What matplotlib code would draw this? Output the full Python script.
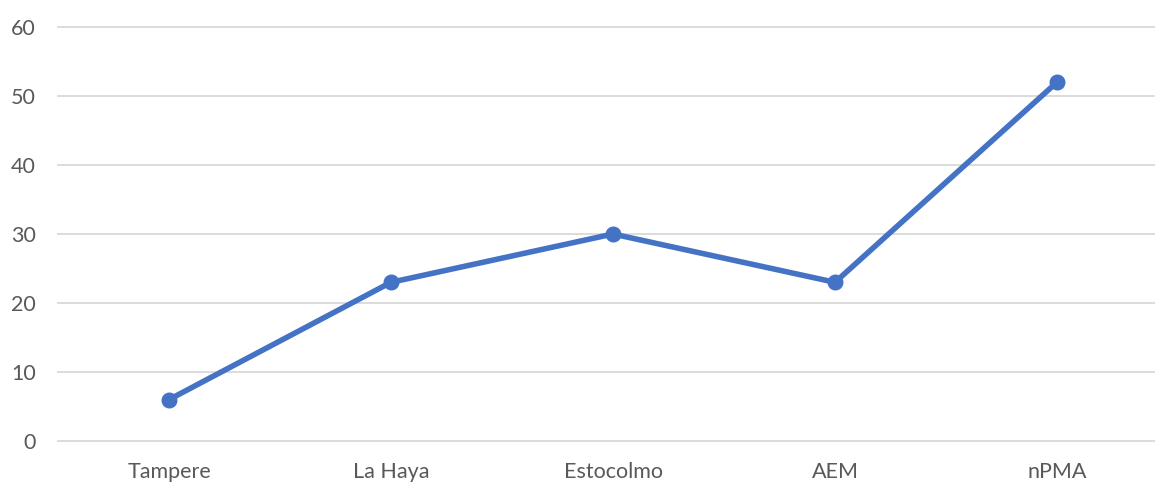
import matplotlib
matplotlib.use("Agg")
import matplotlib.pyplot as plt

# datos
categorias = ["Tampere", "La Haya", "Estocolmo", "AEM", "nPMA"]
valores = [6, 23, 30, 23, 52]
yticks = [0, 10, 20, 30, 40, 50, 60]

plt.rcParams['font.family'] = ['Lato', 'DejaVu Sans']

fig = plt.figure(figsize=(11.55, 4.83), dpi=100)
ax = fig.add_axes([58 / 1155, 42 / 483, 1 - 58 / 1155, 414 / 483])

x = list(range(len(categorias)))
ax.plot(x, valores, color='#4472C4', linewidth=4, marker='o', markersize=10.5,
        solid_capstyle='round', zorder=3, clip_on=False)

ax.set_xlim(-0.5, (1155 - 169) / 222)
ax.set_ylim(0, 60)
ax.set_yticks(yticks)
ax.set_xticks(x)
ax.set_xticklabels(categorias)

ax.yaxis.grid(True, color='#D9D9D9', linewidth=1.3)
for gl in ax.get_ygridlines():
    gl.set_clip_on(False)
ax.set_axisbelow(True)

for s in ax.spines.values():
    s.set_visible(False)
ax.tick_params(axis='both', length=0, labelsize=15.5, labelcolor='#595959')
ax.tick_params(axis='y', pad=16)
ax.tick_params(axis='x', pad=15)

fig.savefig('out.png', dpi=100)
